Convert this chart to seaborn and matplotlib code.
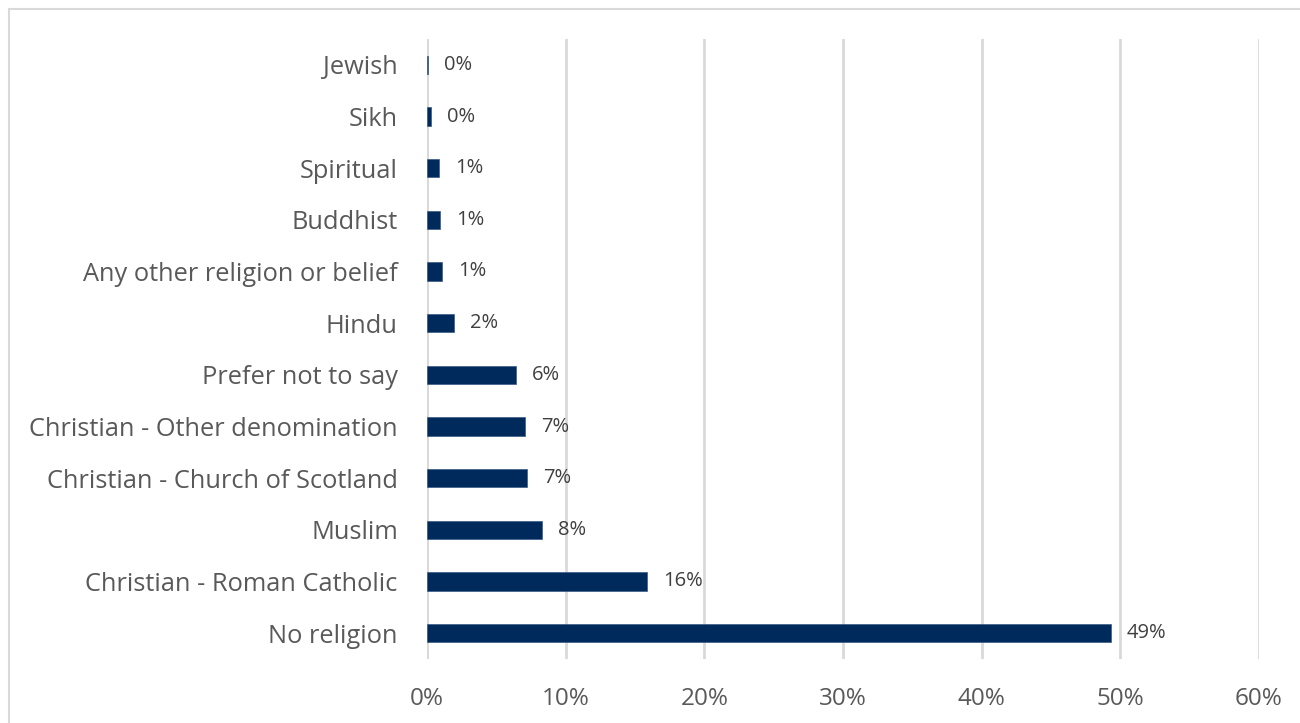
import matplotlib
matplotlib.use("Agg")
import matplotlib.pyplot as plt
import seaborn as sns
import pandas as pd
from matplotlib.patches import Rectangle

religions = [
    "Jewish", "Sikh", "Spiritual", "Buddhist", "Any other religion or belief",
    "Hindu", "Prefer not to say", "Christian - Other denomination",
    "Christian - Church of Scotland", "Muslim", "Christian - Roman Catholic",
    "No religion",
]
shares = [0.1, 0.3, 0.9, 0.95, 1.1, 1.95, 6.4, 7.1, 7.2, 8.3, 15.9, 49.3]
x_ticks = [0, 10, 20, 30, 40, 50, 60]

df = pd.DataFrame({"religion": religions, "share": shares})

sns.set_theme(style="white")
plt.rcParams["font.family"] = ["Open Sans", "DejaVu Sans"]

fig = plt.figure(figsize=(13, 7.23), dpi=100)
ax = fig.add_axes([427 / 1300, 1 - 659 / 723, (1259 - 427) / 1300, (659 - 39) / 723])

sns.barplot(data=df, x="share", y="religion", orient="h", color="#002A5C",
            width=0.35, edgecolor="#3A5A85", linewidth=0.5, saturation=1, ax=ax)

ax.set_xlim(0, 60)
ax.set_ylim(len(religions) - 0.5, -0.5)
ax.set_xticks(x_ticks)
ax.set_xticklabels([f"{t}%" for t in x_ticks])
ax.xaxis.grid(True, color="#D9D9D9", linewidth=2)
ax.set_axisbelow(True)
for s in ax.spines.values():
    s.set_visible(False)
ax.axvline(0, color="#D9D9D9", linewidth=2, zorder=0.5)
ax.set_xlabel("")
ax.set_ylabel("")
ax.tick_params(axis="y", length=0, pad=21, labelsize=18.3, labelcolor="#595959")
ax.tick_params(axis="x", length=0, pad=20, labelsize=17.5, labelcolor="#595959")

for i, v in enumerate(shares):
    ax.annotate(f"{v:.0f}%", xy=(v, i), xytext=(11.5, 0), textcoords="offset points",
                va="center", ha="left", fontsize=14.5, color="#404040")

# light frame around the chart area
fig.patches.append(Rectangle((9 / 1300, -0.1), 1.2, 1 - 9 / 723 + 0.1,
                             transform=fig.transFigure, fill=False,
                             edgecolor="#D9D9D9", linewidth=1.5))

fig.savefig("out.png", dpi=100)
